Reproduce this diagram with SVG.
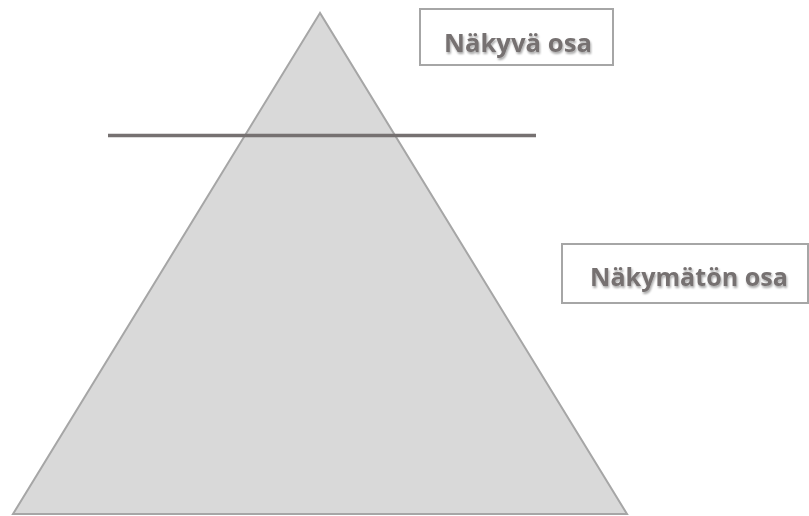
<svg xmlns="http://www.w3.org/2000/svg" width="809" height="516" viewBox="0 0 809 516">
<defs>
<style>
.box{fill:#fff;stroke:#a6a6a6;stroke-width:2}
.lbl{font-family:"Open Sans","Liberation Sans",sans-serif;font-weight:bold;font-size:25px;fill:#767171;text-anchor:middle}
</style>
<filter id="sh" x="-10%" y="-20%" width="130%" height="150%">
<feGaussianBlur in="SourceAlpha" stdDeviation="1"/>
<feOffset dx="1" dy="1.5" result="b"/>
<feComponentTransfer><feFuncA type="linear" slope="0.35"/></feComponentTransfer>
<feMerge><feMergeNode/><feMergeNode in="SourceGraphic"/></feMerge>
</filter>
</defs>
<rect width="809" height="516" fill="#fff"/>
<g id="pyramid">
<polygon points="320,13 13,514 627,514" fill="#d9d9d9" stroke="#a6a6a6" stroke-width="2"/>
</g>
<g id="connectors">
<line x1="108" y1="135.5" x2="536" y2="135.5" stroke="#767171" stroke-width="3.5"/>
</g>
<g id="visible">
<rect class="box" x="420" y="9" width="193" height="56"/>
<text class="lbl" x="518" y="52" textLength="148" lengthAdjust="spacingAndGlyphs" filter="url(#sh)">Näkyvä osa</text>
</g>
<g id="invisible">
<rect class="box" x="562" y="244" width="246" height="59"/>
<text class="lbl" x="689" y="286" textLength="198" lengthAdjust="spacingAndGlyphs" filter="url(#sh)">Näkymätön osa</text>
</g>
</svg>
